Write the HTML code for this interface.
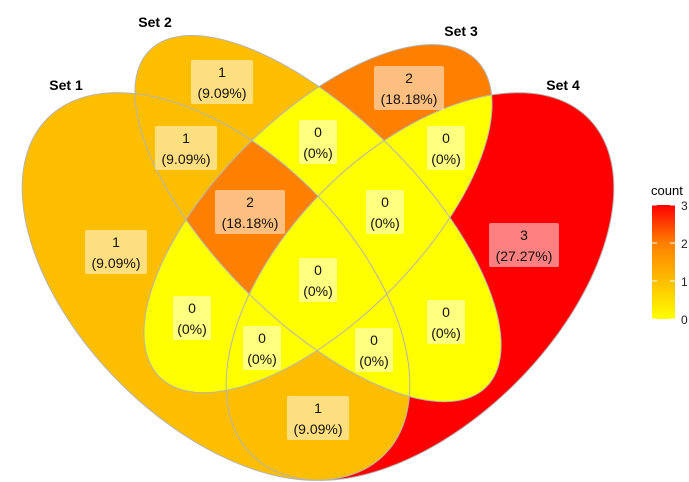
<!DOCTYPE html>
<html><head><meta charset="utf-8">
<style>
html,body{margin:0;padding:0;background:#fff;width:689px;height:482px;overflow:hidden;}
svg{display:block;font-family:"Liberation Sans",Arial,sans-serif;}
</style></head>
<body>
<svg id="venn" width="689" height="482" viewBox="0 0 689 482" xmlns="http://www.w3.org/2000/svg">
<defs id="defs">
<linearGradient id="cgrad" x1="0" y1="1" x2="0" y2="0">
<stop offset="0" stop-color="#FFFF00"/>
<stop offset="0.333" stop-color="#FDBE00"/>
<stop offset="0.667" stop-color="#FF7F00"/>
<stop offset="1" stop-color="#FF0000"/>
</linearGradient>
</defs>
<g id="regions"></g>
<g id="outlines"></g>
<g id="labels"></g>
<g id="setnames"></g>
<g>
<text x="651" y="195" font-size="13" fill="#000">count</text>
<rect x="652" y="205" width="23" height="114" fill="url(#cgrad)"/>
<g id="legticks"></g>
</g>
</svg>
<script>
// data
const setNames = ["Set 1","Set 2","Set 3","Set 4"];
const regionSets = [[1],[2],[3],[4],[1,2],[2,3],[3,4],[1,4],[1,2,3],[2,3,4],[1,3],[2,4],[1,3,4],[1,2,4],[1,2,3,4]];
const regionCounts = [1,1,2,3,1,0,0,1,2,0,0,0,0,0,0];
const legendTicks = [0,1,2,3];
// layout
const labelPos = [[116,252],[222,82],[409,88],[524,245],[186,148],[318,142],[446,148],[318,418],[250,212],[385,212],[192,318],[446,322],[262,348],[374,350],[318,280]];
const ellipses = [
  {cx:216,cy:286.5,rx:238,ry:136,rot:45},
  {cx:318,cy:218.6,rx:238,ry:102,rot:45},
  {cx:318,cy:218.6,rx:224,ry:102,rot:-45},
  {cx:420,cy:286.5,rx:238,ry:136,rot:-45}
];
const setLabelPos = [[66,90],[155,27],[461,36],[563,90]];

const NS="http://www.w3.org/2000/svg";
function mk(t,a,p){const e=document.createElementNS(NS,t);for(const k in a)e.setAttribute(k,a[k]);if(p)p.appendChild(e);return e;}
function ellPath(i){
  const E=ellipses[i];const th=E.rot*Math.PI/180;const c=Math.cos(th),s=Math.sin(th);
  let d="";
  for(let k=0;k<=360;k++){const a=k*Math.PI/180;const x=E.rx*Math.cos(a),y=E.ry*Math.sin(a);
    const px=E.cx+x*c-y*s, py=Math.min(481.5,E.cy+x*s+y*c);
    d+=(k?"L":"M")+px.toFixed(2)+" "+py.toFixed(2);}
  return d+"Z";
}
function ell(i,attrs,p){return mk("path",Object.assign({d:ellPath(i)},attrs),p);}
const maxC=3;
function colorFor(v){
  const t=v/maxC;
  const stops=[[0,[255,255,0]],[1/3,[253,190,0]],[2/3,[255,127,0]],[1,[255,0,0]]];
  for(let i=1;i<stops.length;i++){if(t<=stops[i][0]+1e-9){const a=stops[i-1],b=stops[i];const f=(t-a[0])/(b[0]-a[0]);
    return `rgb(${a[1].map((c,j)=>Math.round(c+(b[1][j]-c)*f)).join(",")})`;}}
  return "rgb(255,0,0)";
}
const defs=document.getElementById("defs");
for(let i=0;i<4;i++){const cp=mk("clipPath",{id:"cp"+i},defs);ell(i,{},cp);}
const total=regionCounts.reduce((a,b)=>a+b,0);
const reg=document.getElementById("regions");
const lab=document.getElementById("labels");
regionSets.forEach((s,r)=>{
  const m=mk("mask",{id:"mk"+r,maskUnits:"userSpaceOnUse",x:0,y:0,width:689,height:482},defs);
  mk("rect",{x:0,y:0,width:689,height:482,fill:"#fff"},m);
  for(let i=0;i<4;i++) if(!s.includes(i+1)) ell(i,{fill:"#000"},m);
  let parent=reg;
  s.forEach(k=>{parent=mk("g",{"clip-path":`url(#cp${k-1})`},parent);});
  const rect=mk("rect",{x:0,y:0,width:689,height:482,fill:colorFor(regionCounts[r]),mask:`url(#mk${r})`},parent);
  
  
  const [x,y]=labelPos[r];
  const pct=total?(regionCounts[r]/total*100):0;
  const ptxt="("+(pct===0?"0":pct.toFixed(2))+"%)";
  const w=ptxt.length*8+6;
  const g=mk("g",{},lab);
  
  
  mk("rect",{x:x-w/2,y:y-22,width:w,height:44,rx:2,fill:"#fff","fill-opacity":0.5},g);
  const t1=mk("text",{x:x,y:y-5,"text-anchor":"middle","font-size":14,fill:"#111"},g);t1.textContent=regionCounts[r];
  const t2=mk("text",{x:x,y:y+16,"text-anchor":"middle","font-size":14,fill:"#111"},g);t2.textContent=ptxt;
});
const ol=document.getElementById("outlines");
for(let i=0;i<4;i++){const e=ell(i,{fill:"none",stroke:"#b4b4b4","stroke-width":1},ol);
  
  }
const sn=document.getElementById("setnames");
setNames.forEach((n,i)=>{const t=mk("text",{x:setLabelPos[i][0],y:setLabelPos[i][1],"text-anchor":"middle","font-size":14,"font-weight":"bold",fill:"#000"},sn);
  t.textContent=n;
  
  });
const lt=document.getElementById("legticks");
legendTicks.forEach(v=>{const y=319-(v/maxC)*114;
  mk("line",{x1:652,x2:657,y1:y,y2:y,stroke:"#fff","stroke-width":1},lt);
  mk("line",{x1:670,x2:675,y1:y,y2:y,stroke:"#fff","stroke-width":1},lt);
  const t=mk("text",{x:681,y:y+5,"font-size":12,fill:"#222"},lt);t.textContent=v;
  
  });
</script>
</body></html>
